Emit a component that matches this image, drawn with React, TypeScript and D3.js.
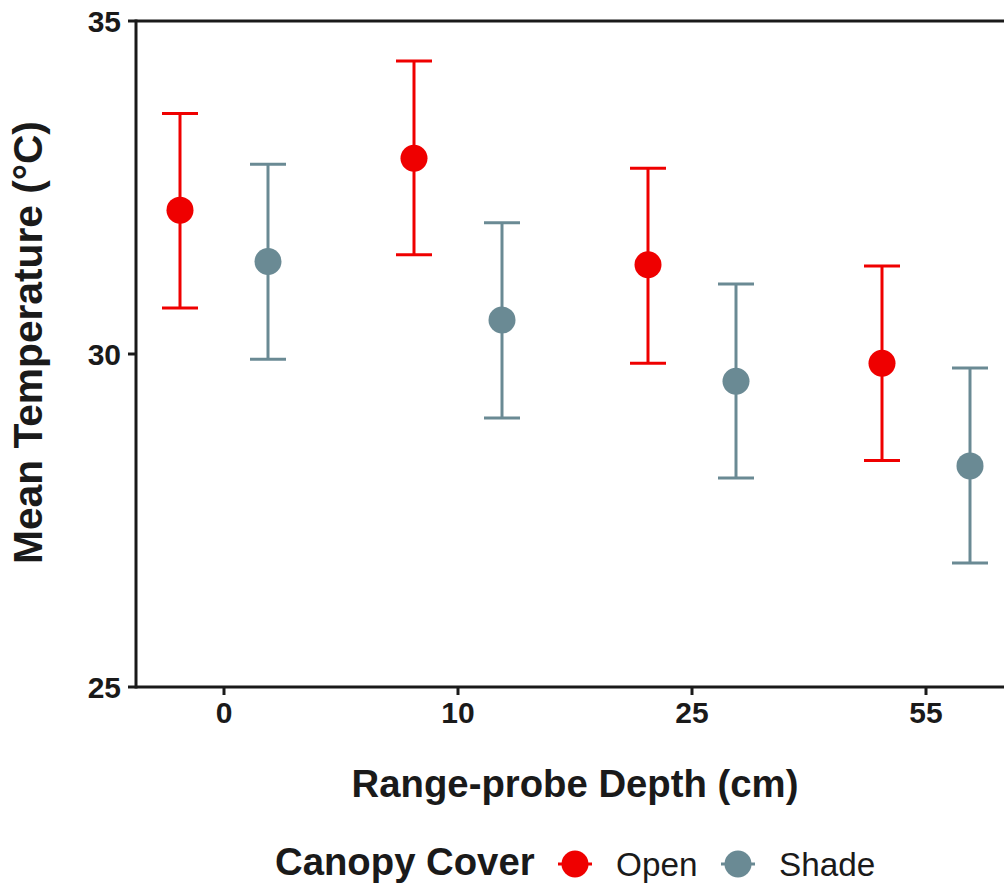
import React from "react";
import * as d3 from "d3";

const depths = ["0", "10", "25", "55"];
const openMean = [32.16, 32.94, 31.34, 29.86];
const openLow = [30.69, 31.49, 29.86, 28.4];
const openHigh = [33.61, 34.4, 32.79, 31.32];
const shadeMean = [31.39, 30.51, 29.59, 28.32];
const shadeLow = [29.92, 29.04, 28.14, 26.86];
const shadeHigh = [32.85, 31.97, 31.05, 29.79];
const yTicks = [25, 30, 35];
const groups = ["Open", "Shade"];
const colors = ["#ef0000", "#6a8a94"];

const W = 1004;
const H = 885;
const FONT = "'Liberation Sans', Arial, sans-serif";
const AXIS = "#1a1a1a";

export default function App() {
  const left = 136;
  const top = 21;
  const bottom = 687;
  const right = 1004;
  const y = d3.scaleLinear().domain([25, 35]).range([bottom, top]);
  const x = d3.scalePoint<string>().domain(depths).range([224, 926]);
  const dodge = d3.scalePoint<string>().domain(groups).range([-44, 44]);

  const series = [
    { name: "Open", mean: openMean, low: openLow, high: openHigh, color: colors[0] },
    { name: "Shade", mean: shadeMean, low: shadeLow, high: shadeHigh, color: colors[1] },
  ];

  const legendItems = [
    { name: "Open", cx: 575, tx: 616, color: colors[0] },
    { name: "Shade", cx: 738, tx: 779, color: colors[1] },
  ];

  return (
    <svg
      width={W}
      height={H}
      style={{ position: "absolute", left: 0, top: 0, background: "#fff" }}
      fontFamily={FONT}
    >
      <rect x={0} y={0} width={W} height={H} fill="#fff" />
      {series.map((s) => (
        <g key={s.name}>
          {depths.map((d, i) => {
            const cx = (x(d) as number) + (dodge(s.name) as number);
            return (
              <g key={d}>
                <line x1={cx} x2={cx} y1={y(s.low[i])} y2={y(s.high[i])} stroke={s.color} strokeWidth={3} />
                <line x1={cx - 18} x2={cx + 18} y1={y(s.low[i])} y2={y(s.low[i])} stroke={s.color} strokeWidth={3} />
                <line x1={cx - 18} x2={cx + 18} y1={y(s.high[i])} y2={y(s.high[i])} stroke={s.color} strokeWidth={3} />
                <circle cx={cx} cy={y(s.mean[i])} r={13.5} fill={s.color} />
              </g>
            );
          })}
        </g>
      ))}
      <line x1={left} x2={left} y1={top - 1.5} y2={bottom + 1.5} stroke={AXIS} strokeWidth={3} />
      <line x1={left} x2={right} y1={top} y2={top} stroke={AXIS} strokeWidth={3} />
      <line x1={left} x2={right} y1={bottom} y2={bottom} stroke={AXIS} strokeWidth={3} />
      {yTicks.map((t) => (
        <g key={t}>
          <line x1={left - 8} x2={left} y1={y(t)} y2={y(t)} stroke={AXIS} strokeWidth={3} />
          <text x={121} y={y(t) + 11} textAnchor="end" fontSize={30} fontWeight="bold" fill={AXIS}>
            {t}
          </text>
        </g>
      ))}
      {depths.map((d) => (
        <g key={d}>
          <line x1={x(d)} x2={x(d)} y1={bottom} y2={bottom + 8} stroke={AXIS} strokeWidth={3} />
          <text x={x(d)} y={723} textAnchor="middle" fontSize={30} fontWeight="bold" fill={AXIS}>
            {d}
          </text>
        </g>
      ))}
      <text x={575} y={797} textAnchor="middle" fontSize={38.3} fontWeight="bold" fill={AXIS}>
        Range-probe Depth (cm)
      </text>
      <text
        transform={`translate(42, 342.5) rotate(-90)`}
        textAnchor="middle"
        fontSize={40.7}
        fontWeight="bold"
        fill={AXIS}
      >
        Mean Temperature (°C)
      </text>
      <text x={275} y={875} fontSize={38.3} fontWeight="bold" fill={AXIS}>
        Canopy Cover
      </text>
      {legendItems.map((l) => (
        <g key={l.name}>
          <line x1={l.cx - 17} x2={l.cx + 17} y1={864} y2={864} stroke={l.color} strokeWidth={3} />
          <circle cx={l.cx} cy={864} r={13.5} fill={l.color} />
          <text x={l.tx} y={876} fontSize={33.3} fill={AXIS}>
            {l.name}
          </text>
        </g>
      ))}
    </svg>
  );
}
